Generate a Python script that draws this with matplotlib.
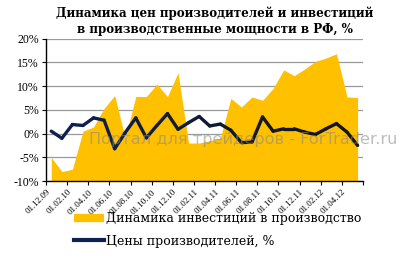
import numpy as np
import matplotlib.pyplot as plt
from matplotlib.lines import Line2D
from matplotlib.colors import LinearSegmentedColormap

# monthly data, 12.2009 - 05.2012
months = ['01.12.09', '01.01.10', '01.02.10', '01.03.10', '01.04.10', '01.05.10',
          '01.06.10', '01.07.10', '01.08.10', '01.09.10', '01.10.10', '01.11.10',
          '01.12.10', '01.01.11', '01.02.11', '01.03.11', '01.04.11', '01.05.11',
          '01.06.11', '01.07.11', '01.08.11', '01.09.11', '01.10.11', '01.11.11',
          '01.12.11', '01.01.12', '01.02.12', '01.03.12', '01.04.12', '01.05.12']
invest = [-5.0, -8.0, -7.5, 0.5, 1.4, 5.3, 8.0, -1.0, 7.8, 7.8,
          10.4, 7.8, 12.8, -2.0, -2.0, -1.5, -1.0, 7.4, 5.6, 7.7,
          7.0, 9.5, 13.4, 12.2, 13.6, 15.2, 15.9, 16.8, 7.7, 7.6]
prices = [0.5, -1.0, 1.9, 1.7, 3.3, 2.8, -3.2, 0.2, 3.3, -0.9,
          1.7, 4.2, 0.9, 2.3, 3.6, 1.6, 2.0, 0.7, -1.9, -1.8,
          3.5, 0.5, 1.0, 1.0, 0.3, -0.2, 1.0, 2.1, 0.3, -2.5]
yticks = [-10, -5, 0, 5, 10, 15, 20]

gold = '#FFC000'
serif = ['Liberation Serif', 'DejaVu Serif']

fig = plt.figure(figsize=(4.05, 2.59), dpi=100)
ax = fig.add_axes([0.1136, 0.301, 0.7824, 0.55])

x = np.arange(len(months))
ax.fill_between(x, invest, -10, color=gold, lw=0, zorder=2)

# line goes from dark navy to almost black
cmap = LinearSegmentedColormap.from_list('nb', ['#0f2150', '#101a33', '#151515'])
for i in range(len(x) - 1):
    ax.plot(x[i:i + 2], prices[i:i + 2], color=cmap(i / (len(x) - 2)), lw=2.4,
            solid_capstyle='round', solid_joinstyle='round', zorder=3)

ax.set_xlim(-0.5, len(x) - 0.5)
ax.set_ylim(-10, 20)
ax.set_yticks(yticks)
ax.set_yticklabels(['%d%%' % v if v >= 0 else '-%d%%' % -v for v in yticks],
                   fontfamily=serif, fontsize=8.5)
ax.grid(axis='y', color='#9a9a9a', lw=0.9, zorder=1)
ax.set_axisbelow(True)

tick_pos = np.arange(-0.5, len(x), 2)
ax.set_xticks(tick_pos)
ax.set_xticklabels(months[::2] + [''], rotation=45, ha='right',
                   rotation_mode='anchor', fontfamily=serif, fontsize=6.5)
ax.tick_params(axis='x', length=3, width=0.8, pad=2)
ax.tick_params(axis='y', length=3, width=0.8, pad=2)

for s in ['top', 'right']:
    ax.spines[s].set_visible(False)
for s in ['left', 'bottom']:
    ax.spines[s].set_color('black')
    ax.spines[s].set_linewidth(1.0)
    ax.spines[s].set_zorder(4)

fig.text(0.53, 0.917, 'Динамика цен производителей и инвестиций\nв производственные мощности в РФ, %',
         ha='center', va='center', fontfamily='DejaVu Serif', fontweight='bold',
         fontsize=8.6, linespacing=1.3)

fig.text(0.6, 0.46, 'Портал для трейдеров - ForTrader.ru', ha='center', va='center',
         fontsize=11.6, color='#888888', alpha=0.55, zorder=10)

handles = [Line2D([], [], color=gold, lw=6, solid_capstyle='butt'),
           Line2D([], [], color='#0f2150', lw=3)]
fig.legend(handles, ['Динамика инвестиций в производство', 'Цены производителей, %'],
           loc='upper left', bbox_to_anchor=(0.17, 0.2), frameon=False,
           prop={'family': 'DejaVu Serif', 'size': 9.0}, handlelength=2.4,
           handletextpad=0.2, labelspacing=0.75, borderaxespad=0)

fig.savefig('out.png', dpi=100)
